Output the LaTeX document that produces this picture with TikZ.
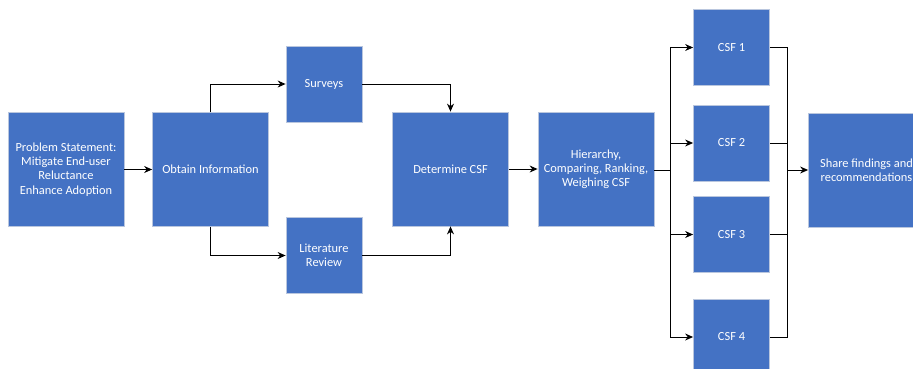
\documentclass[tikz,border=0pt]{standalone}
\usepackage{fontspec}
\setmainfont{Carlito}
\usetikzlibrary{arrows.meta, positioning}
\definecolor{boxblue}{HTML}{4472C4}
\definecolor{boxedge}{HTML}{B9C6DE}
\tikzset{%
  >={Stealth[width=7pt, length=8pt]}, % solid arrow heads
  x=1pt, y=-1pt, % one unit is one pixel of the reference
  % blue process box
  stagebox/.style={rectangle, draw=boxedge, line width=0.8pt, fill=boxblue,
    text=white, align=center, inner sep=2pt,
    font=\fontsize{12.4}{14.2}\selectfont},
  bigbox/.style={stagebox, minimum width=116pt, minimum height=114pt},
  smallbox/.style={stagebox, minimum width=76pt, minimum height=76pt},
  % connectors
  flow/.style={line width=1pt, black},
}
\begin{document}
\begin{tikzpicture}
  \useasboundingbox (0,0) rectangle (913,368);
  \clip (0,0) rectangle (913,368);

  % stages
  \node[bigbox] (problem) at (66,169.5) {Problem Statement:\\Mitigate End-user\\Reluctance\\Enhance Adoption};
  \node[bigbox] (obtain) at (210.5,169.5) {Obtain Information};
  \node[smallbox] (surveys) at (324,84) {Surveys};
  \node[smallbox] (litreview) at (324,255.5) {Literature\\Review};
  \node[bigbox] (determine) at (450.5,169) {Determine CSF};
  \node[bigbox] (ranking) at (596,169) {Hierarchy,\\Comparing, Ranking,\\Weighing CSF};
  \foreach \n/\y in {1/47.5, 2/143, 3/234.5, 4/337} {
    \node[smallbox] (csf\n) at (731.5,\y) {CSF \n};
  }
  \node[bigbox] (share) at (866.5,170) {Share findings and\\recommendations};

  % buses
  \coordinate (splitbus) at (670,170);
  \coordinate (mergebus) at (787,170);

  % connectors
  \draw[flow,->] (problem) -- (obtain);
  \draw[flow,->] (obtain.north) |- (surveys.west);
  \draw[flow,->] (obtain.south) |- (litreview.west);
  \draw[flow,->] (surveys.east) -| (determine.north);
  \draw[flow,->] (litreview.east) -| (determine.south);
  \draw[flow,->] (determine) -- (ranking);
  \draw[flow] (ranking.east |- splitbus) -- (splitbus);
  \foreach \n in {1,...,4} {
    \draw[flow,->] (splitbus) |- (csf\n.west);
    \draw[flow] (csf\n.east) -| (mergebus);
  }
  \draw[flow,->] (mergebus) -- (share.west |- mergebus);
\end{tikzpicture}
\end{document}
